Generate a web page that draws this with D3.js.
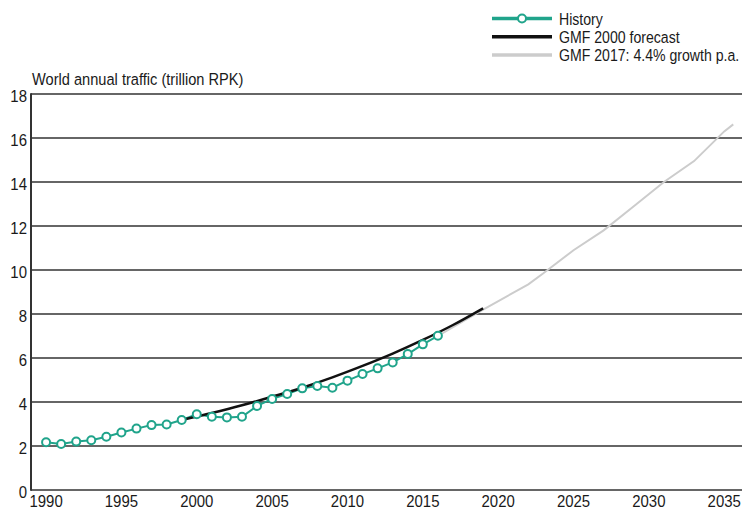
<!DOCTYPE html>
<html>
<head>
<meta charset="utf-8">
<script src="https://cdn.jsdelivr.net/npm/d3@7"></script>
<style>
  body { margin: 0; background: #fff; }
  svg text { font-family: "Liberation Sans", Arial, sans-serif; fill: #1a1a1a; font-size: 17px; }
</style>
</head>
<body>
<svg id="chart"></svg>
<script>
var width = 742;
var height = 510;

// history (trillion RPK)
var historyYears = [1990, 1991, 1992, 1993, 1994, 1995, 1996, 1997, 1998, 1999,
  2000, 2001, 2002, 2003, 2004, 2005, 2006, 2007, 2008, 2009,
  2010, 2011, 2012, 2013, 2014, 2015, 2016];
var historyValues = [2.17, 2.09, 2.2, 2.26, 2.42, 2.61, 2.79, 2.95, 2.98, 3.18,
  3.44, 3.33, 3.3, 3.33, 3.82, 4.14, 4.36, 4.62, 4.73, 4.65,
  4.97, 5.27, 5.53, 5.8, 6.18, 6.62, 7.01];

// GMF 2000 forecast
var gmf2000Years = [1999, 2001, 2003, 2005, 2007, 2009, 2011, 2013, 2015, 2017, 2019];
var gmf2000Values = [3.18, 3.5, 3.85, 4.24, 4.65, 5.12, 5.64, 6.2, 6.82, 7.5, 8.26];

// GMF 2017 forecast
var gmf2017Years = [2016, 2019, 2022, 2023, 2025, 2027, 2029, 2031, 2033, 2035, 2035.6];
var gmf2017Values = [7.0, 8.2, 9.35, 9.85, 10.9, 11.8, 12.9, 14.0, 14.95, 16.3, 16.62];

var xTicks = [1990, 1995, 2000, 2005, 2010, 2015, 2020, 2025, 2030, 2035];
var yTicks = [0, 2, 4, 6, 8, 10, 12, 14, 16, 18];

var legendLabels = ["History", "GMF 2000 forecast", "GMF 2017: 4.4% growth p.a."];
var teal = "#20a48b";

var svg = d3.select("#chart")
  .attr("width", width)
  .attr("height", height);

var margin = {left: 31, right: 0, top: 94, bottom: 20};

var x = d3.scaleLinear()
  .domain([1989, 1989 + (width - margin.left) / 15.07])
  .range([margin.left, width]);

var y = d3.scaleLinear()
  .domain([0, 18])
  .range([height - margin.bottom, margin.top]);

// squeezed text to fake a condensed face
function squeeze(tx, ty, s) {
  return "translate(" + tx + "," + ty + ") scale(" + s + ",1)";
}

// gridlines
svg.append("g")
  .selectAll("line")
  .data(yTicks)
  .enter()
  .append("line")
  .attr("x1", margin.left)
  .attr("x2", width)
  .attr("y1", function(d) { return y(d); })
  .attr("y2", function(d) { return y(d); })
  .style("stroke", "#333")
  .style("stroke-width", 1.5);

// left axis line
svg.append("line")
  .attr("x1", margin.left)
  .attr("x2", margin.left)
  .attr("y1", y(18) - 0.75)
  .attr("y2", y(0) + 0.75)
  .style("stroke", "#333")
  .style("stroke-width", 2);

// y tick labels
svg.append("g")
  .selectAll("text")
  .data(yTicks)
  .enter()
  .append("text")
  .attr("transform", function(d) { return squeeze(27, y(d) + 1.5, 0.88); })
  .attr("dy", "0.36em")
  .attr("text-anchor", "end")
  .text(function(d) { return d; });

// x tick labels
svg.append("g")
  .selectAll("text")
  .data(xTicks)
  .enter()
  .append("text")
  .attr("transform", function(d) { return squeeze(x(d), 507, 0.88); })
  .attr("text-anchor", "middle")
  .text(function(d) { return d; });

// axis title
svg.append("text")
  .attr("transform", squeeze(32, 85, 0.86))
  .text("World annual traffic (trillion RPK)");

var line = d3.line()
  .x(function(d) { return x(d[0]); })
  .y(function(d) { return y(d[1]); });

// GMF 2017 line
svg.append("path")
  .datum(d3.zip(gmf2017Years, gmf2017Values))
  .attr("d", line)
  .style("fill", "none")
  .style("stroke", "#cccccc")
  .style("stroke-width", 2);

// history line
svg.append("path")
  .datum(d3.zip(historyYears, historyValues))
  .attr("d", line)
  .style("fill", "none")
  .style("stroke", teal)
  .style("stroke-width", 2);

// GMF 2000 line
svg.append("path")
  .datum(d3.zip(gmf2000Years, gmf2000Values))
  .attr("d", line.curve(d3.curveMonotoneX))
  .style("fill", "none")
  .style("stroke", "#111")
  .style("stroke-width", 2.5);

// history markers
svg.append("g")
  .selectAll("circle")
  .data(d3.zip(historyYears, historyValues))
  .enter()
  .append("circle")
  .attr("cx", function(d) { return x(d[0]); })
  .attr("cy", function(d) { return y(d[1]); })
  .attr("r", 4)
  .style("fill", "#fff")
  .style("stroke", teal)
  .style("stroke-width", 2);

// legend
var legendColors = [teal, "#111", "#cccccc"];
var legend = svg.append("g").attr("transform", "translate(492,0)");
legendLabels.forEach(function(label, i) {
  var ly = 18.5 + i * 18.3;
  legend.append("line")
    .attr("x1", 0)
    .attr("x2", 60)
    .attr("y1", ly)
    .attr("y2", ly)
    .style("stroke", legendColors[i])
    .style("stroke-width", 3.5);
  if (i == 0) {
    legend.append("circle")
      .attr("cx", 30)
      .attr("cy", ly)
      .attr("r", 4)
      .style("fill", "#fff")
      .style("stroke", teal)
      .style("stroke-width", 2);
  }
  legend.append("text")
    .attr("transform", squeeze(67, ly, 0.83))
    .attr("dy", "0.36em")
    .text(label);
});
</script>
</body>
</html>
